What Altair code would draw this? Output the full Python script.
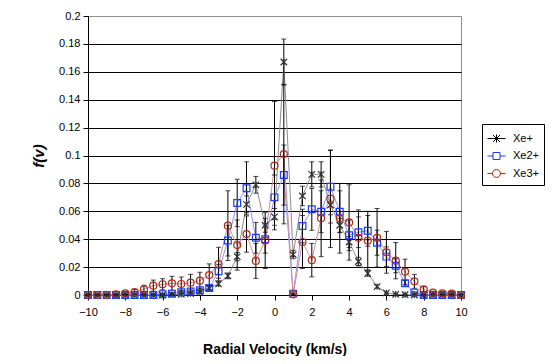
import altair as alt
import pandas as pd

velocity = [-10, -9.5, -9, -8.5, -8, -7.5, -7, -6.5, -6, -5.5, -5, -4.5, -4, -3.5, -3, -2.5, -2, -1.5, -1, -0.5,
            0, 0.5, 1, 1.5, 2, 2.5, 3, 3.5, 4, 4.5, 5, 5.5, 6, 6.5, 7, 7.5, 8, 8.5, 9, 9.5, 10]

xe1 = [0, 0, 0, 0, 0, 0, 0, 0, 0, 0.0003, 0.0005, 0.001, 0.002, 0.005, 0.008, 0.0137, 0.0275, 0.065, 0.079, 0.050,
       0.056, 0.167, 0.029, 0.071, 0.0865, 0.0865, 0.0645, 0.050, 0.038, 0.024, 0.0155, 0.006, 0.0015, 0.0005, 0.0002, 0,
       0, 0, 0, 0, 0]
xe1_err = [0.0003, 0.0003, 0.0003, 0.0003, 0.0003, 0.0003, 0.0003, 0.0003, 0.0004, 0.0005, 0.0005, 0.0006, 0.0008,
           0.0012, 0.0015, 0.002, 0.003, 0.006, 0.006, 0.005, 0.006, 0.0165, 0.003, 0.007, 0.009, 0.009, 0.007,
           0.005, 0.004, 0.003, 0.002, 0.001, 0.0006, 0.0004, 0.0003, 0.0003, 0.0003, 0.0003, 0.0003, 0.0003, 0.0003]

xe2 = [0, 0, 0, 0, 0, 0, 0, 0, 0.0005, 0.001, 0.002, 0.0025, 0.0035, 0.005, 0.017, 0.039, 0.066, 0.0765, 0.041, 0.040,
       0.070, 0.086, 0.001, 0.0495, 0.0614, 0.0597, 0.0776, 0.0597, 0.0428, 0.045, 0.046, 0.0375, 0.0275, 0.021, 0.0084,
       0.0017, 0, 0, 0, 0, 0]
xe2_err = [0.0004, 0.0004, 0.0004, 0.0004, 0.0004, 0.0004, 0.0004, 0.0005, 0.0006, 0.0008, 0.001, 0.0012, 0.0015,
           0.002, 0.005, 0.011, 0.017, 0.019, 0.011, 0.010, 0.016, 0.0215, 0.0005, 0.012, 0.015, 0.015, 0.026, 0.015,
           0.011, 0.011, 0.011, 0.009, 0.007, 0.005, 0.002, 0.0006, 0.0004, 0.0004, 0.0004, 0.0004, 0.0004]

xe3 = [0, 0, 0, 0.0005, 0.0012, 0.002, 0.004, 0.0067, 0.0077, 0.0084, 0.0079, 0.0088, 0.0103, 0.0143, 0.0222, 0.0497,
       0.0358, 0.0437, 0.0244, 0.039, 0.0927, 0.101, 0.0005, 0.038, 0.025, 0.055, 0.069, 0.055, 0.052, 0.041, 0.039,
       0.041, 0.0306, 0.0246, 0.0167, 0.0098, 0.004, 0.0017, 0.0012, 0.001, 0]
xe3_err = [0.0004, 0.0004, 0.0004, 0.0005, 0.001, 0.002, 0.003, 0.004, 0.004, 0.005, 0.005, 0.006, 0.006, 0.008,
           0.012, 0.025, 0.018, 0.013, 0.0125, 0.020, 0.046, 0.050, 0.0005, 0.019, 0.012, 0.0275, 0.035, 0.025,
           0.027, 0.020, 0.021, 0.021, 0.015, 0.013, 0.009, 0.005, 0.002, 0.001, 0.0008, 0.0006, 0.0004]

series_names = ["Xe+", "Xe2+", "Xe3+"]
x_ticks = [-10, -8, -6, -4, -2, 0, 2, 4, 6, 8, 10]
y_ticks = [0, 0.02, 0.04, 0.06, 0.08, 0.1, 0.12, 0.14, 0.16, 0.18, 0.2]

rows = []
for name, vals, errs in [("Xe+", xe1, xe1_err), ("Xe2+", xe2, xe2_err), ("Xe3+", xe3, xe3_err)]:
    for v, f, e in zip(velocity, vals, errs):
        rows.append({"v": v, "f": f, "err": e, "series": name})
df = pd.DataFrame(rows)

FONT = "Liberation Sans"

star = "M-1,-1L1,1M-1,1L1,-1M0,-1L0,1"
leg_star = "M-1,0L1,0M-0.39,-0.39L0.39,0.39M-0.39,0.39L0.39,-0.39M0,-0.45L0,0.45"
leg_square = "M-1,0L-0.39,0M0.39,0L1,0M-0.39,-0.39L0.39,-0.39L0.39,0.39L-0.39,0.39Z"
leg_circle = "M-1,0L-0.44,0M0.44,0L1,0M-0.44,0A0.44,0.44 0 1,0 0.44,0A0.44,0.44 0 1,0 -0.44,0Z"

x_enc = alt.X("v:Q", scale=alt.Scale(domain=[-10, 10], nice=False),
              axis=alt.Axis(values=x_ticks, tickCount=40, title="Radial Velocity (km/s)", grid=False, format="d",
                            labelOverlap=False, domainColor="black", tickColor="black", tickSize=5,
                            labelFont=FONT, labelFontSize=11, labelColor="black", labelPadding=6,
                            titleFont=FONT, titleFontSize=14, titleFontWeight="bold", titleColor="black",
                            titlePadding=25, labelFlush=False))
y_enc = alt.Y("f:Q", scale=alt.Scale(domain=[0, 0.2], nice=False),
              axis=alt.Axis(values=y_ticks, tickCount=40, title="f(v)", grid=True, format="~g", labelOverlap=False,
                            gridColor={"condition": {"test": "datum.value >= 0.199", "value": "#909090"},
                                       "value": "black"},
                            gridWidth=1, domainColor="black", tickColor="black", tickSize=5,
                            labelFont=FONT, labelFontSize=11, labelColor="black", labelPadding=3,
                            titleFont=FONT, titleFontSize=15, titleFontWeight="bold", titleFontStyle="italic",
                            titleColor="black", titlePadding=12, labelFlush=False))

base = alt.Chart(df)

lines = base.mark_line(strokeWidth=1).encode(
    x=x_enc, y=y_enc,
    color=alt.Color("series:N", scale=alt.Scale(domain=series_names, range=["#8c8c8c", "#8f8fff", "#d09090"]),
                    legend=None),
    detail="series:N",
)

err_base = base.transform_calculate(
    lo="max(datum.f - datum.err, 0)", hi="datum.f + datum.err"
)
err_rule = err_base.mark_rule(color="black", strokeWidth=1).encode(
    x="v:Q", y="lo:Q", y2="hi:Q")
err_lo = err_base.mark_tick(color="black", orient="horizontal", size=5, thickness=1).encode(
    x="v:Q", y="lo:Q")
err_hi = err_base.mark_tick(color="black", orient="horizontal", size=5, thickness=1).encode(
    x="v:Q", y="hi:Q")

points = base.mark_point(filled=False, strokeWidth=1.2, opacity=1).encode(
    x="v:Q", y="f:Q",
    shape=alt.Shape("series:N", scale=alt.Scale(domain=series_names, range=[star, "square", "circle"]),
                    legend=None),
    color=alt.Color("series:N", scale=alt.Scale(domain=series_names, range=["#303030", "#1a3cff", "#b02a1a"]),
                    legend=None),
    size=alt.Size("series:N", scale=alt.Scale(domain=series_names, range=[42, 49, 64]), legend=None),
)

leg = alt.Legend(title=None, orient="none", legendX=394, legendY=108, padding=5,
                 strokeColor="black", fillColor="white", symbolSize=324,
                 symbolStrokeWidth=1, symbolOpacity=1, labelFont=FONT, labelFontSize=11,
                 labelColor="black", labelOffset=7, rowPadding=1.5, cornerRadius=0)

legend_layer = base.mark_point(filled=False, strokeWidth=1, opacity=0).encode(
    x="v:Q", y="f:Q",
    shape=alt.Shape("series:N", scale=alt.Scale(domain=series_names, range=[leg_star, leg_square, leg_circle]),
                    legend=leg),
    color=alt.Color("series:N", scale=alt.Scale(domain=series_names, range=["black", "#1a3cff", "#a52a1a"]),
                    legend=leg),
)

chart = alt.layer(lines, err_rule, err_lo, err_hi, points, legend_layer).resolve_scale(
    color="independent", shape="independent", size="independent"
).properties(
    width=373, height=279,
    autosize=alt.AutoSizeParams(type="none"),
    padding={"left": 80, "top": 8, "right": 84, "bottom": 61},
    background="white",
).configure_view(stroke="#909090", strokeWidth=1)

chart.save("out.html", embed_options={"renderer": "svg", "actions": False})
